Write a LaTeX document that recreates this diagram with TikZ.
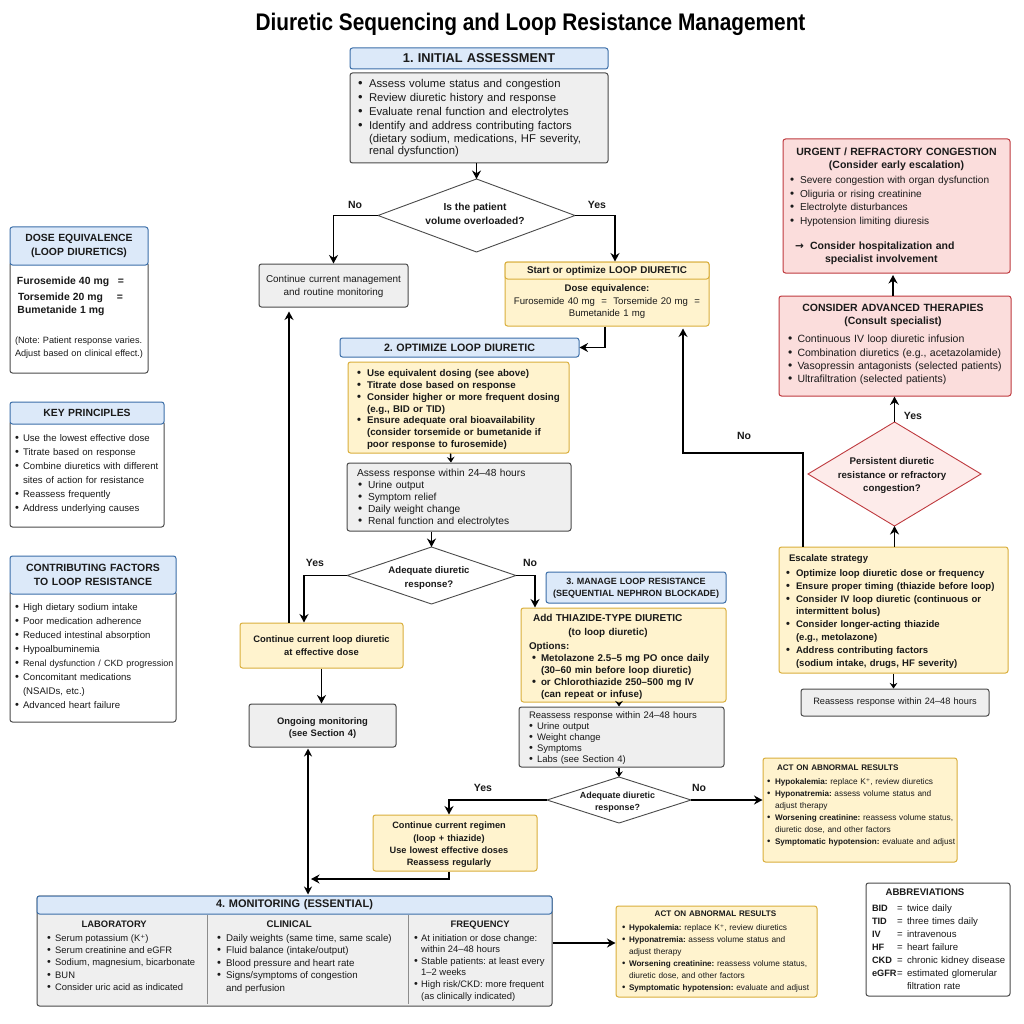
\documentclass[tikz,border=0pt]{standalone}
\usepackage{fontspec}
\setmainfont{Liberation Sans}
\newfontfamily\titlefont[FakeStretch=0.868]{Liberation Sans}
\newfontfamily\dv{DejaVu Sans}
\usetikzlibrary{arrows.meta,shapes.geometric,calc}
\definecolor{blueF}{HTML}{DCE9F9}\definecolor{blueD}{HTML}{3B6EA8}
\definecolor{yelF}{HTML}{FFF3CE}\definecolor{yelD}{HTML}{D9AE3C}
\definecolor{grayF}{HTML}{EFEFEF}\definecolor{grayD}{HTML}{4A4A4A}
\definecolor{redF}{HTML}{FBDDDC}\definecolor{redD}{HTML}{BF3A3F}
\definecolor{inkC}{HTML}{1A1A1A}
\frenchspacing
\newlength\bd
\newcommand{\setb}[1]{\global\bd=#1pt\relax\rightskip=-30pt plus 1fil\relax}
\newcommand{\bl}{\makebox[\bd][l]{\scalebox{1.15}{•}}}
\newcommand{\ct}{\hspace*{\bd}}
\newcommand{\dn}[1]{\rule{0pt}{\dimexpr #1pt+.73em\relax}}
\newcommand{\up}[1]{\par\vspace*{#1pt}}
\newcommand{\cl}[2]{\makebox[#1pt][c]{#2}}
\newcommand{\Kp}{K{\dv ⁺}}
\newcommand{\BB}[1]{{\fontsize{8.1}{12}\selectfont\bfseries #1}}
\newcommand{\bx}[8][]{\pgfmathsetmacro\tw{#5-#3-2*#7}\pgfmathsetmacro\bw{#5-#3}\pgfmathsetmacro\bh{#6-#4}\pgfmathsetmacro\cxx{(#3+#5)/2}\pgfmathsetmacro\cyy{(#4+#6)/2}%
\node[#1, minimum width=\bw pt, minimum height=\bh pt, text width=\tw pt, inner xsep=#7pt, inner ysep=0pt] (#2) at (\cxx,\cyy) {#8\par};}
\def\dmy{-.3em}
\newcommand{\dm}[8][]{\pgfmathsetmacro\bw{#5-#3}\pgfmathsetmacro\bh{#6-#4}\pgfmathsetmacro\cxx{(#3+#5)/2}\pgfmathsetmacro\cyy{(#4+#6)/2}%
\node[dia, #1, minimum width=\bw pt, minimum height=\bh pt] (#2) at (\cxx,\cyy) {\hspace*{#7pt}\makebox[0pt]{\raisebox{\dmy}[0pt][0pt]{\begin{tabular}{@{}c@{}}#8\end{tabular}}}};}
\tikzset{
 fz/.style 2 args={font=\fontsize{#1}{#2}\selectfont},
 fb/.style 2 args={font=\fontsize{#1}{#2}\selectfont\bfseries},
 base/.style={draw,rounded corners=2.5pt,line width=1pt,text=inkC,align=left},
 cen/.style={align=center},
 bluebox/.style={base,fill=blueF,draw=blueD,align=center},
 yelbox/.style={base,fill=yelF,draw=yelD},
 graybox/.style={base,fill=grayF,draw=grayD},
 redbox/.style={base,fill=redF,draw=redD},
 whitebox/.style={base,fill=white,draw=grayD},
 dia/.style={shape=diamond,draw=grayD,fill=white,line width=.9pt,inner sep=0pt,outer sep=0pt,text=inkC},
 lab/.style={text=inkC,font=\fontsize{10.5}{12}\selectfont\bfseries,inner sep=0pt},
 txt/.style={text=inkC,inner sep=0pt,align=left,anchor=north west},
 arr/.style={draw=black,line width=1.4pt,-{Stealth[length=8.5pt,width=9pt]}},
 arrS/.style={draw=black,line width=1.4pt,-{Stealth[length=5.5pt,width=7.5pt]}},
 arrD/.style={draw=black,line width=1.3pt,{Stealth[length=8pt,width=8pt]}-{Stealth[length=8pt,width=8pt]}},
 lin/.style={draw=black,line width=1.4pt},
 divd/.style={draw=gray!90,line width=1pt},
}
\begin{document}
\begin{tikzpicture}[x=1pt,y=-1pt]
\useasboundingbox (0,0) rectangle (1024,1024);
\fill[white] (0,0) rectangle (1024,1024);
\node[text=black,inner sep=0pt,font=\titlefont\fontsize{24}{28}\selectfont\bfseries] (title) at (530.5,24) {Diuretic Sequencing and Loop Resistance Management};

% Section 1
\bx[bluebox,fb={12.8}{16}]{h1}{350}{48}{608}{69}{4}{1. INITIAL ASSESSMENT}
\bx[graybox,fz={11.3}{14}]{a1}{350}{73}{608}{163}{8}{\setb{11}\bl Assess volume status and congestion\\\bl Review diuretic history and response\\\bl Evaluate renal function and electrolytes\\\bl Identify and address contributing factors\\[-1pt]\ct (dietary sodium, medications, HF severity,\\[-1.5pt]\ct renal dysfunction)}
\def\dmy{-.15em}
\dm[fb={10.2}{14}]{d1}{378}{179}{575}{252}{-3}{Is the patient\\volume overloaded?}
\bx[graybox,cen,fz={9.9}{13.5}]{g1}{259}{264}{408}{307}{2}{\dn{2}Continue current management\\and routine monitoring}
\bx[yelbox,cen,fz={9.6}{12.5}]{y1}{505}{262}{709}{326}{2}{\dn{15}\textbf{Dose equivalence:}\\Furosemide 40 mg \ = \ Torsemide 20 mg \ =\\Bumetanide 1 mg}
\bx[yelbox,cen,fb={9.85}{12}]{y1h}{505}{262}{709}{279}{2}{Start or optimize LOOP DIURETIC}

% Section 2
\bx[bluebox,fb={10.7}{14}]{h2}{340}{338}{579}{357}{4}{2. OPTIMIZE LOOP DIURETIC}
\bx[yelbox,fb={9.75}{11.9}]{y2}{348}{362}{569}{453}{9}{\setb{10}\dn{4}\bl Use equivalent dosing (see above)\\\bl Titrate dose based on response\\\bl Consider higher or more frequent dosing\\\ct (e.g., BID or TID)\\\bl Ensure adequate oral bioavailability\\\ct (consider torsemide or bumetanide if\\\ct poor response to furosemide)}
\bx[graybox,fz={10.2}{11.7}]{g2}{347}{463}{571}{531}{10}{\setb{0}\dn{1}Assess response within 24–48 hours\\[0.9pt]\global\bd=10pt\relax\hspace*{1pt}\bl Urine output\\\hspace*{1pt}\bl Symptom relief\\\hspace*{1pt}\bl Daily weight change\\\hspace*{1pt}\bl Renal function and electrolytes}
\def\dmy{-.5em}
\dm[fb={9.6}{13.5}]{d2}{347}{547}{516}{604}{-5}{Adequate diuretic\\response?}
\bx[yelbox,cen,fb={9.4}{12.5}]{cl}{240}{623}{403}{668}{2}{Continue current loop diuretic\\at effective dose}
\bx[graybox,cen,fb={9.4}{12.5}]{on}{249}{704}{396}{747}{2}{\dn{5}Ongoing monitoring\\(see Section 4)}

% Section 3
\bx[bluebox,fb={9}{12.3}]{h3}{546}{572}{726}{603}{1}{\dn{1}3. MANAGE LOOP RESISTANCE\\(SEQUENTIAL NEPHRON BLOCKADE)}
\bx[yelbox,fb={9.8}{11.9}]{y3}{521}{608}{726}{702}{8}{\setb{9}\dn{4}\hspace*{4pt}{\fontsize{10.05}{14}\selectfont Add THIAZIDE-TYPE DIURETIC}\\[2.2pt]\cl{158}{\fontsize{9.9}{14}\selectfont (to loop diuretic)}\\[2pt]Options:\\\hspace*{3pt}\bl Metolazone 2.5–5 mg PO once daily\\\hspace*{3pt}\ct (30–60 min before loop diuretic)\\\hspace*{3pt}\bl or Chlorothiazide 250–500 mg IV\\\hspace*{3pt}\ct (can repeat or infuse)}
\bx[graybox,fz={9.5}{11}]{g3}{519}{707}{724}{767}{10}{\setb{8}\dn{3}Reassess response within 24–48 hours\\\bl Urine output\\\bl Weight change\\\bl Symptoms\\\bl Labs (see Section 4)}
\dm[fb={8.9}{12.5}]{d3}{547}{777}{691}{823}{-3}{Adequate diuretic\\response?}
\bx[yelbox,fb={9.2}{12.3}]{y4}{373}{815}{537}{871}{2}{\setb{0}\dn{4}\cl{148}{Continue current regimen}\\\cl{148}{(loop + thiazide)}\\\cl{148}{Use lowest effective doses}\\\cl{148}{Reassess regularly}}
\bx[yelbox,fz={8.3}{12}]{act1}{763}{758}{957}{862}{4}{\setb{8}\hspace*{10pt}\BB{ACT ON ABNORMAL RESULTS}\\[2pt]\bl\BB{Hypokalemia:} replace \Kp, review diuretics\\\bl\BB{Hyponatremia:} assess volume status and\\\ct adjust therapy\\\bl\BB{Worsening creatinine:} reassess volume status,\\\ct diuretic dose, and other factors\\\bl\BB{Symptomatic hypotension:} evaluate and adjust\up{8}}

% Section 4
\bx[graybox]{m}{37}{896}{552}{1006}{2}{}
\bx[bluebox,fb={11}{14}]{mh}{37}{896}{552}{914}{4}{4. MONITORING (ESSENTIAL)}
\draw[divd] (207,915) -- (207,1004);
\draw[divd] (408,915) -- (408,1004);
\node[txt,fz={9.4}{12.3}] (ml) at (47,920.5) {\setb{8}\cl{134}{\textbf{LABORATORY}}\\[1.8pt]\bl Serum potassium (\Kp)\\\bl Serum creatinine and eGFR\\\bl Sodium, magnesium, bicarbonate\\\bl BUN\\\bl Consider uric acid as indicated};
\node[txt,fz={9.7}{12.4}] (mc) at (217,920.5) {\setb{9}\cl{144}{\textbf{CLINICAL}}\\[1.6pt]\bl Daily weights (same time, same scale)\\\bl Fluid balance (intake/output)\\\bl Blood pressure and heart rate\\\bl Signs/symptoms of congestion\\\ct and perfusion};
\node[txt,fz={9.4}{11.55}] (mf) at (414,920.5) {\setb{7}\cl{132}{\textbf{FREQUENCY}}\\[2.5pt]\bl At initiation or dose change:\\\ct within 24–48 hours\\\bl Stable patients: at least every\\\ct 1–2 weeks\\\bl High risk/CKD: more frequent\\\ct (as clinically indicated)};
\bx[yelbox,fz={8.3}{12}]{act2}{616}{906}{817}{997}{6}{\setb{7}\cl{187}{\BB{ACT ON ABNORMAL RESULTS}}\\[2pt]\bl\BB{Hypokalemia:} replace \Kp, review diuretics\\\bl\BB{Hyponatremia:} assess volume status and\\\ct adjust therapy\\\bl\BB{Worsening creatinine:} reassess volume status,\\\ct diuretic dose, and other factors\\\bl\BB{Symptomatic hypotension:} evaluate and adjust}
\newcommand{\ABr}[2]{\makebox[25pt][l]{\fontsize{9.2}{13}\selectfont\bfseries #1}\makebox[10pt][l]{=}#2}
\bx[whitebox,fz={9.6}{13}]{ab}{866}{883}{1010}{996}{6}{\setb{0}\cl{106}{\textbf{ABBREVIATIONS}}\\[3pt]
\ABr{BID}{twice daily}\\
\ABr{TID}{three times daily}\\
\ABr{IV}{intravenous}\\
\ABr{HF}{heart failure}\\
\ABr{CKD}{chronic kidney disease}\\
\ABr{eGFR}{estimated glomerular}\\
\hspace*{35pt}filtration rate}

% Left panels
\bx[whitebox,fz={9.15}{13}]{dB}{10}{262}{148}{373}{6}{\setb{0}{\fontsize{10.4}{16.5}\selectfont\bfseries \hspace*{1pt}\makebox[101pt][l]{Furosemide 40 mg}=\\\hspace*{2pt}\makebox[99pt][l]{Torsemide 20 mg}=\\\hspace*{1.5pt}Bumetanide 1 mg}\\[17pt]\hspace*{-1pt}(Note: Patient response varies.\\\hspace*{-1pt}Adjust based on clinical effect.)}
\bx[bluebox,fb={10.4}{14}]{dH}{10}{227}{148}{265}{2}{DOSE EQUIVALENCE\\(LOOP DIURETICS)}
\bx[whitebox,fz={9.6}{14.1}]{kB}{10}{421}{164}{527}{5}{\setb{8}\bl Use the lowest effective dose\\\bl Titrate based on response\\\bl Combine diuretics with different\\\ct sites of action for resistance\\\bl Reassess frequently\\\bl Address underlying causes}
\bx[bluebox,fb={10.4}{14}]{kH}{10}{402}{164}{424}{2}{KEY PRINCIPLES}
\bx[whitebox,fz={9.6}{14}]{cB}{10}{591}{176}{722}{5}{\setb{8}\bl High dietary sodium intake\\\bl Poor medication adherence\\\bl Reduced intestinal absorption\\\bl Hypoalbuminemia\\\bl {\fontsize{9}{14}\selectfont Renal dysfunction / CKD progression}\\\bl Concomitant medications\\\ct (NSAIDs, etc.)\\\bl Advanced heart failure}
\bx[bluebox,fb={10.5}{14}]{cH}{10}{556}{176}{594}{2}{CONTRIBUTING FACTORS\\TO LOOP RESISTANCE}

% Right column
\bx[redbox,fz={10.1}{13.4}]{urg}{783}{139}{1010}{273}{7}{\setb{10}\cl{213}{\fontsize{10.5}{14}\selectfont\bfseries URGENT / REFRACTORY CONGESTION}\\\cl{213}{\fontsize{10.5}{14}\selectfont\bfseries (Consider early escalation)}\\[2pt]\bl Severe congestion with organ dysfunction\\\bl Oliguria or rising creatinine\\\bl Electrolyte disturbances\\\bl Hypotension limiting diuresis\\[12.5pt]{\fontsize{10.5}{12.5}\selectfont\bfseries\hspace*{5pt}\makebox[15pt][l]{\dv →}Consider hospitalization and\\\hspace*{35pt}specialist involvement}}
\bx[redbox,fz={10.5}{13.3}]{adv}{779}{296}{1011}{396}{9}{\setb{9.5}\cl{210}{\fontsize{10.5}{14}\selectfont\bfseries CONSIDER ADVANCED THERAPIES}\\\cl{210}{\fontsize{10.5}{14}\selectfont\bfseries (Consult specialist)}\\[5pt]\bl Continuous IV loop diuretic infusion\\\bl Combination diuretics (e.g., acetazolamide)\\\bl Vasopressin antagonists (selected patients)\\\bl Ultrafiltration (selected patients)\up{3}}
\def\dmy{-.4em}
\dm[fb={9.7}{13.5},draw=redD,fill=redF!60]{rd}{808}{422}{981}{526}{-5}{Persistent diuretic\\resistance or refractory\\congestion?}
\bx[yelbox,fb={9.55}{12.85}]{esc}{779}{547}{1008}{673}{7}{\setb{10}\dn{3}\hspace*{3pt}Escalate strategy\\[2pt]\bl Optimize loop diuretic dose or frequency\\\bl Ensure proper timing (thiazide before loop)\\\bl Consider IV loop diuretic (continuous or\\\ct intermittent bolus)\\\bl Consider longer-acting thiazide\\\ct (e.g., metolazone)\\\bl Address contributing factors\\\ct (sodium intake, drugs, HF severity)}
\bx[graybox,cen,fz={9.25}{12}]{g4}{801}{689}{989}{716}{4}{Reassess response within 24–48 hours}

% Labels
\node[lab] (lNo1) at (355,205) {No};
\node[lab] (lYes1) at (597,205) {Yes};
\node[lab] (lYes2) at (315,563) {Yes};
\node[lab] (lNo2) at (530,563) {No};
\node[lab] (lYes3) at (483,788) {Yes};
\node[lab] (lNo3) at (699,788) {No};
\node[lab] (lNo4) at (744,436) {No};
\node[lab] (lYes4) at (913,416) {Yes};

% Connectors
\coordinate (jn) at (311,879);
\coordinate (bend) at (683,453);
\draw[arr] (d1.north |- a1.south) -- (d1.north);
\draw[arr] (d1.west) -| (g1.north);
\draw[arr] (d1.east) -| ([xshift=8pt]y1.north);
\draw[arr] ([xshift=-2pt]y1.south) |- (h2.east);
\draw[arrS] ([xshift=-8pt]y2.south) -- ([xshift=-8pt]g2.north);
\draw[arr] (d2.north |- g2.south) -- (d2.north);
\draw[arr] (d2.west) -| ([xshift=-17.5pt]cl.north);
\draw[arr] (d2.east) -| ([xshift=-88.5pt]y3.north);
\draw[arrS] (d3.north |- y3.south) -- (d3.north |- g3.north);
\draw[arrS] (d3.north |- g3.south) -- (d3.north);
\draw[arr] (d3.west) -| ([xshift=-6pt]y4.north);
\draw[arr] (d3.east) -- (d3.east -| act1.west);
\draw[arr] ([xshift=-6pt]y4.south) |- (jn);
\draw[arrD,shorten >=1pt,shorten <=1pt] ([xshift=-14.5pt]on.south) -- ([xshift=-14.5pt]on.south |- mh.north);
\draw[arr] (cl.south) -- (cl.south |- on.north);
\draw[arr,shorten >=4pt] ([xshift=-32.5pt]cl.north) -- ([xshift=-32.5pt]cl.north |- g1.south);
\draw[arr] ([yshift=8.5pt]act2.west -| m.east) -- ([yshift=8.5pt]act2.west);
\draw[arr] (rd.south |- esc.north) -- (rd.south);
\draw[arr] (rd.north) -- (rd.north |- adv.south);
\draw[arr,shorten >=1.5pt] ([xshift=-2pt]adv.north) -- ([xshift=-2pt]adv.north |- urg.south);
\draw[arrS] (esc.south) -- (esc.south |- g4.north);
\draw[arr,shorten >=2pt] ([xshift=-90.5pt]esc.north) |- (bend) -- ([xshift=76pt]y1.south);
\end{tikzpicture}
\end{document}
